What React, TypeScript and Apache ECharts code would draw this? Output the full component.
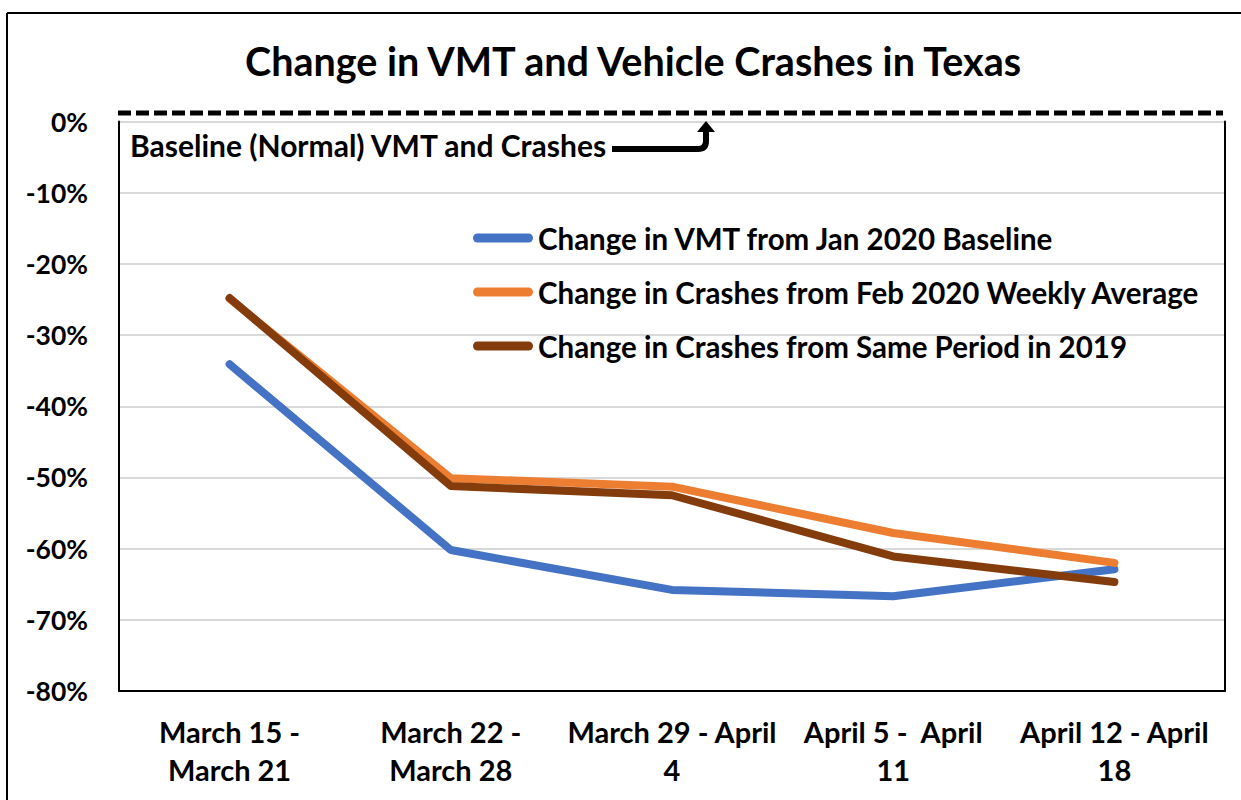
import React, { useEffect, useRef } from "react";
import * as echarts from "echarts";

const categories = [
  "March 15 -\nMarch 21",
  "March 22 -\nMarch 28",
  "March 29 - April\n4",
  "April 5 -  April\n11",
  "April 12 - April\n18",
];
const seriesNames = [
  "Change in VMT from Jan 2020 Baseline",
  "Change in Crashes from Feb 2020 Weekly Average",
  "Change in Crashes from Same Period in 2019",
];
const vmtChange = [-34.1, -60.2, -65.8, -66.7, -62.9];
const crashFeb = [-24.9, -50.1, -51.3, -57.8, -62.0];
const crash2019 = [-24.8, -51.2, -52.5, -61.1, -64.7];
const yMin = -80;
const yMax = 0;
const yStep = 10;
const colors = ["#4472C4", "#ED7D31", "#843C0C"];

const FONT = "Lato";

export default function App() {
  const ref = useRef<HTMLDivElement>(null);
  useEffect(() => {
    if (!ref.current) return;
    const chart = echarts.init(ref.current, undefined, { renderer: "svg" });
    const data = [vmtChange, crashFeb, crash2019];
    chart.setOption({
      animation: false,
      backgroundColor: "#ffffff",
      textStyle: { fontFamily: FONT },
      title: {
        text: "Change in VMT and Vehicle Crashes in Texas",
        left: 245,
        top: 40,
        padding: 0,
        textStyle: { fontFamily: FONT, fontWeight: "bold", fontSize: 39.5, color: "#000" },
      },
      legend: {
        orient: "vertical",
        left: 468,
        top: 218,
        itemWidth: 60,
        itemHeight: 9,
        itemGap: 24,
        icon: "path://M4.5,0 L55.5,0 A4.5,4.5 0 0 1 55.5,9 L4.5,9 A4.5,4.5 0 0 1 4.5,0 Z",
        data: seriesNames,
        textStyle: { fontFamily: FONT, fontWeight: "bold", fontSize: 29.5, lineHeight: 30, color: "#000" },
      },
      grid: { left: 119, right: 16, top: 121.5, bottom: 109, containLabel: false },
      xAxis: {
        type: "category",
        data: categories,
        boundaryGap: true,
        axisLine: { onZero: false, lineStyle: { color: "#000", width: 2 } },
        axisTick: { show: false },
        axisLabel: {
          interval: 0,
          margin: 21,
          fontFamily: FONT,
          fontWeight: "bold",
          fontSize: 29,
          lineHeight: 38,
          color: "#000",
        },
      },
      yAxis: [
        {
          type: "value",
          min: yMin,
          max: yMax,
          interval: yStep,
          axisLine: { show: true, lineStyle: { color: "#000", width: 2 } },
          axisTick: { show: false },
          splitLine: { lineStyle: { color: "#d9d9d9", width: 2 } },
          axisLabel: {
            margin: 31,
            formatter: (v: number) => `${v}%`,
            fontFamily: FONT,
            fontWeight: "bold",
            fontSize: 26.5,
            color: "#000",
          },
        },
        {
          type: "value",
          position: "right",
          min: yMin,
          max: yMax,
          interval: yStep,
          axisLine: { show: true, lineStyle: { color: "#000", width: 2 } },
          axisTick: { show: false },
          axisLabel: { show: false },
          splitLine: { show: false },
        },
      ],
      series: seriesNames.map((name, i) => ({
        name,
        type: "line",
        data: data[i],
        symbol: "none",
        color: colors[i],
        lineStyle: { color: colors[i], width: 8, cap: "round", join: "round" },
        z: 2 + i,
      })),
      graphic: [
        { type: "line", shape: { x1: 7, y1: 13, x2: 1241, y2: 13 }, style: { stroke: "#000", lineWidth: 2 } },
        { type: "line", shape: { x1: 7, y1: 13, x2: 7, y2: 800 }, style: { stroke: "#000", lineWidth: 2 } },
        {
          type: "line",
          shape: { x1: 118, y1: 113, x2: 1223, y2: 113 },
          style: { stroke: "#000", lineWidth: 5, lineDash: [13, 5] },
          z: 10,
        },
        {
          type: "text",
          x: 130,
          y: 145,
          style: {
            text: "Baseline (Normal) VMT and Crashes",
            fontFamily: FONT,
            fontWeight: "bold",
            fontSize: 30,
            fill: "#000",
            textVerticalAlign: "middle",
          },
          z: 10,
        },
        { type: "line", shape: { x1: 612, y1: 149, x2: 699, y2: 149 }, style: { stroke: "#000", lineWidth: 6 }, z: 10 },
        {
          type: "bezierCurve",
          shape: { x1: 698, y1: 149, x2: 706, y2: 141, cpx1: 706, cpy1: 149 },
          style: { stroke: "#000", lineWidth: 6, fill: null },
          z: 10,
        },
        { type: "line", shape: { x1: 706, y1: 142, x2: 706, y2: 131 }, style: { stroke: "#000", lineWidth: 6 }, z: 10 },
        {
          type: "polygon",
          shape: { points: [[697, 132], [715, 132], [706, 121]] },
          style: { fill: "#000" },
          z: 10,
        },
      ],
    });
    return () => chart.dispose();
  }, []);
  return (
    <div
      ref={ref}
      style={{ position: "absolute", left: 0, top: 0, width: 1241, height: 800 }}
    />
  );
}
